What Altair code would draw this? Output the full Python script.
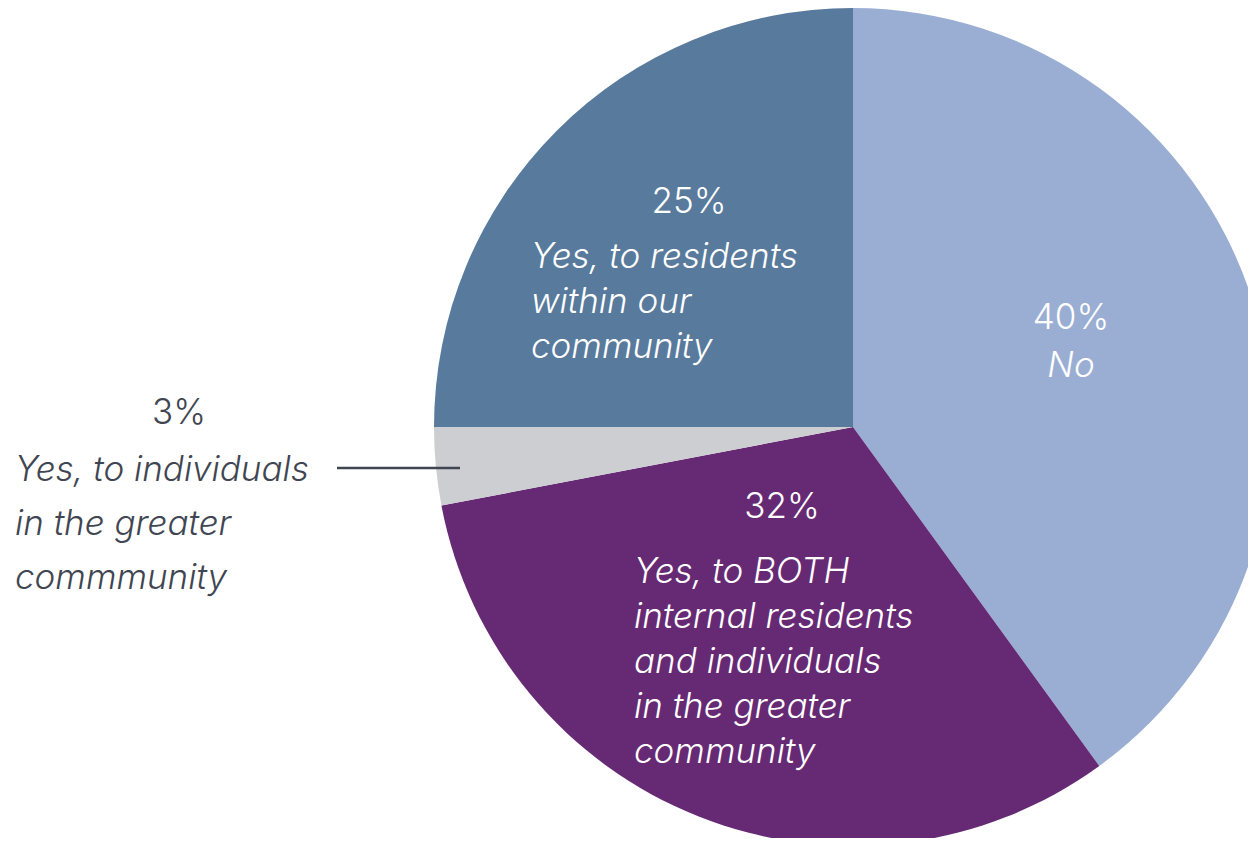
import altair as alt
import pandas as pd

categories = ["No", "Yes, to BOTH", "Yes, to individuals", "Yes, to residents"]
values = [40, 32, 3, 25]
colors = ["#9AAED4", "#662A74", "#CDCED2", "#587A9C"]
pct_labels = ["40%", "32%", "3%", "25%"]
desc_lines = [
    ["No"],
    ["Yes, to BOTH", "internal residents", "and individuals", "in the greater", "community"],
    ["Yes, to individuals", "in the greater", "commmunity"],
    ["Yes, to residents", "within our", "community"],
]

df = pd.DataFrame({"category": categories, "value": values, "order": list(range(len(values)))})

FONT = "Inter"
FS = 35
W, H = 1240, 830
CX, CY, R = 845, 419, 419

pie = alt.Chart(df).mark_arc(radius=R).encode(
    theta=alt.Theta("value:Q", stack=True),
    color=alt.Color("category:N", scale=alt.Scale(domain=categories, range=colors), legend=None),
    order=alt.Order("order:Q"),
    x=alt.value(CX),
    y=alt.value(CY),
)


def txt(lines, x, y, align, color, italic, lh=45):
    d = pd.DataFrame({"t": ["\n".join(lines)]})
    kw = dict(
        align=align, baseline="alphabetic", font=FONT, fontSize=FS, fontWeight=300,
        color=color, lineBreak="\n", lineHeight=lh,
    )
    if italic:
        kw["fontStyle"] = "italic"
    return alt.Chart(d).mark_text(**kw).encode(
        text="t:N", x=alt.value(x), y=alt.value(y)
    )


WHITE = "#FFFFFF"
DARK = "#3F4652"

layers = [
    pie,
    # 40% No
    txt([pct_labels[0]], 1063, 321, "center", WHITE, False),
    txt(desc_lines[0], 1063, 369, "center", WHITE, True),
    # 32% BOTH
    txt([pct_labels[1]], 774, 510, "center", WHITE, False),
    txt(desc_lines[1], 626, 575, "left", WHITE, True),
    # 3% individuals
    txt([pct_labels[2]], 171, 416, "center", DARK, False),
    txt(desc_lines[2], 7, 473, "left", DARK, True, lh=54),
    # 25% residents
    txt([pct_labels[3]], 681, 205, "center", WHITE, False),
    txt(desc_lines[3], 523, 260, "left", WHITE, True),
]

leader = alt.Chart(pd.DataFrame({"k": [0]})).mark_rule(color=DARK, strokeWidth=2.5).encode(
    x=alt.value(329), x2=alt.value(452), y=alt.value(460)
)
layers.append(leader)

chart = alt.layer(*layers).properties(
    width=W, height=H, padding=0, autosize=alt.AutoSizeParams(type="none")
).configure_view(stroke=None)

chart.save("out.html", embed_options={"renderer": "svg", "actions": False})
